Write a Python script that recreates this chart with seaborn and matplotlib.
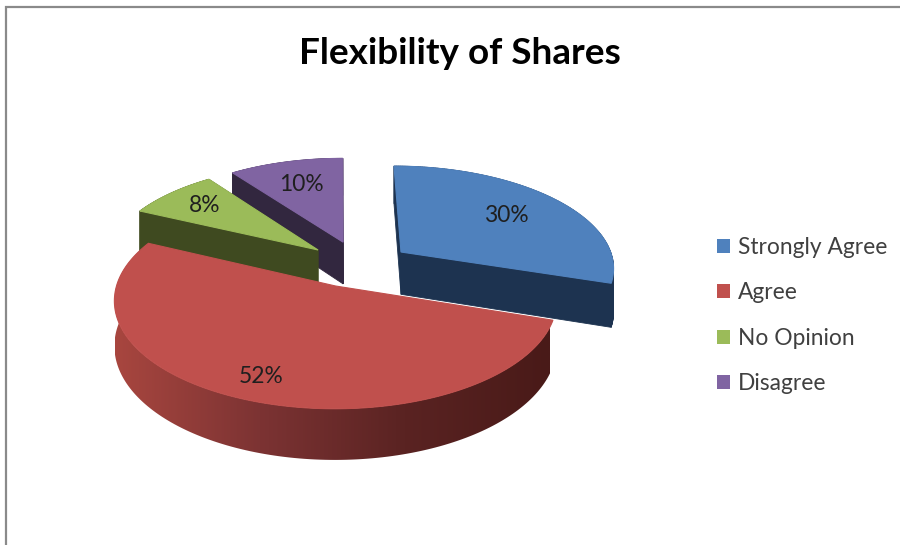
import numpy as np
import matplotlib
matplotlib.use("Agg")
import matplotlib.pyplot as plt
from matplotlib.patches import Patch, Polygon
import seaborn as sns

# datos del grafico
categorias = ["Strongly Agree", "Agree", "No Opinion", "Disagree"]
porcentajes = [30, 52, 8, 10]
etiquetas = ["30%", "52%", "8%", "10%"]
titulo = "Flexibility of Shares"

# estilo
colores = ["#4F81BD", "#C0504D", "#9BBB59", "#8064A2"]
colores_lado = ["#1D3350", "#7A3232", "#3F4A20", "#32273F"]
explode_x = [0.291, -0.02, -0.105, 0.015]
explode_y = [0.297, -0.038, 0.318, 0.40]
radio_etiqueta = [0.68, 0.82, 0.76, 0.70]

# proyeccion en perspectiva del disco a pixeles
CX, CY, RX, RY, K = 340, 282, 218, 105, 0.135
PROFUNDIDAD = 44

sns.set_theme(style="white")
plt.rcParams["font.family"] = ["Lato", "DejaVu Sans"]


def proyectar(x, y):
    w = 1 + K * y
    return CX + RX * x / w, CY - RY * y / w, w


fig, ax = plt.subplots(figsize=(9, 5.45), dpi=100)
ax.set_position([0, 0, 1, 1])

# marco gris de la imagen
ax.plot([6, 6, 900], [545, 7, 7], color="#8A8A8A", lw=1.6, solid_joinstyle="miter")

# angulos en sentido horario desde arriba
acumulado = np.cumsum([0] + porcentajes) / sum(porcentajes) * 360
inicio = 90 - acumulado[:-1]
fin = 90 - acumulado[1:]
degradado = sns.blend_palette(["#A8463F", "#7C3333", "#5A2322", "#491A18"], 256)

# orden de dibujo: de atras hacia adelante
for i in [3, 2, 0, 1]:
    t = np.radians(np.linspace(inicio[i], fin[i], 160))
    x = np.r_[0, np.cos(t), 0] + explode_x[i]
    y = np.r_[0, np.sin(t), 0] + explode_y[i]
    px, py, w = proyectar(x, y)
    alto = PROFUNDIDAD / w

    # caras laterales
    if i == 1:
        # el lado curvo del sector rojo lleva degradado horizontal
        lado = np.c_[np.r_[px[1:-1], px[1:-1][::-1]],
                     np.r_[py[1:-1], (py + alto)[1:-1][::-1]]]
        poligono = Polygon(lado, closed=True, transform=ax.transData, fc="none", ec="none")
        ax.add_patch(poligono)
        img = ax.imshow(np.linspace(0, 1, 256)[None, :], extent=[115, 550, 480, 240],
                        cmap=matplotlib.colors.ListedColormap(degradado), aspect="auto")
        img.set_clip_path(poligono)
    else:
        for j in range(len(px) - 1):
            ax.fill([px[j], px[j + 1], px[j + 1], px[j]],
                    [py[j], py[j + 1], py[j + 1] + alto[j + 1], py[j] + alto[j]],
                    color=colores_lado[i], lw=0.6)

    # cara superior
    ax.fill(px, py, fc=colores[i], ec=colores[i], lw=0.8)

    # etiqueta de porcentaje
    medio = np.radians((inicio[i] + fin[i]) / 2)
    lx, ly, _ = proyectar(
        explode_x[i] + radio_etiqueta[i] * np.cos(medio),
        explode_y[i] + radio_etiqueta[i] * np.sin(medio),
    )
    ax.text(lx, ly, etiquetas[i], ha="center", va="center", fontsize=16.4,
            color="#1F1F1F", zorder=5)

ax.set_xlim(0, 900)
ax.set_ylim(545, 0)
ax.axis("off")

ax.text(460, 53, titulo, ha="center", va="center", fontsize=26.6,
        fontweight="bold", color="black")

handles = [Patch(facecolor=c, edgecolor="none") for c in colores]
ax.legend(handles, categorias, loc="center left", bbox_to_anchor=(717, 315.5),
          bbox_transform=ax.transData, frameon=False, fontsize=16.4,
          labelcolor="#404040", handlelength=0.57, handleheight=0.57,
          handletextpad=0.35, labelspacing=1.07, borderaxespad=0, borderpad=0)

fig.savefig("out.png", dpi=100, facecolor="white")
